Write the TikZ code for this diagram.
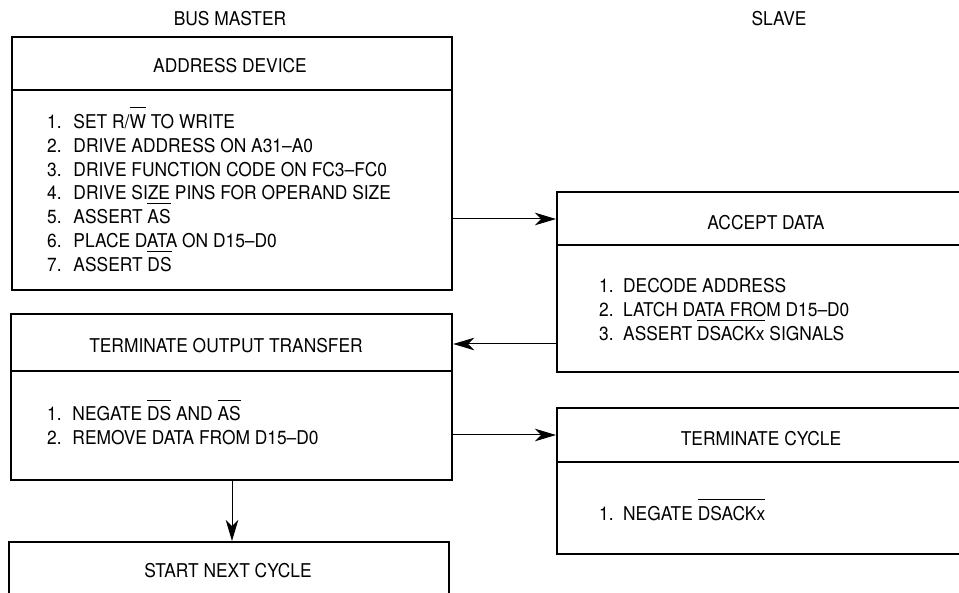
\documentclass[tikz,border=0pt]{standalone}
\usepackage{fontspec}
\setmainfont[FakeStretch=0.915]{TeX Gyre Heros}
\usetikzlibrary{arrows.meta}
\newcommand\myovl[1]{\setbox0\hbox{#1}\rlap{\rule[20pt]{\wd0}{0.9pt}}\box0\relax}
\newcommand\num[2]{\makebox[#1][l]{#2}}
\tikzset{
  box/.style={draw, line width=2.2pt, anchor=north west, inner sep=0pt},
  divider/.style={line width=2.2pt},
  title/.style={inner sep=0pt, text height=13.6pt, text depth=0pt},
  item/.style={anchor=base west, inner sep=0pt},
  arr/.style={line width=1pt, -{Stealth[length=21pt,width=12.5pt,inset=6pt]}},
}
\begin{document}
\begin{tikzpicture}[x=1pt, y=-1pt, font=\fontsize{19}{24}\selectfont]
\useasboundingbox (0,0) rectangle (959,593);
\begin{scope}
\clip (0,0) rectangle (959,593);
\fill[white] (0,0) rectangle (959,593);

% column headers
\node[title] (hbm) at (230,19) {BUS MASTER};
\node[title] (hsl) at (779,18.5) {SLAVE};

% boxes
\node[box, minimum width=440pt, minimum height=253pt] (addr) at (11,36) {};
\draw[divider] (12,90) -- (452,90);
\node[title] (addrT) at (230,66) {ADDRESS DEVICE};
\node[item] (a1) at (47,128.3) {\num{26.3pt}{1.}SET R/\myovl{W} TO WRITE};
\node[item] (a2) at (47,152.2) {\num{26.3pt}{2.}DRIVE ADDRESS ON A31–A0};
\node[item] (a3) at (47,176.1) {\num{26.3pt}{3.}DRIVE FUNCTION CODE ON FC3–FC0};
\node[item] (a4) at (47,200.0) {\num{26.3pt}{4.}DRIVE SIZE PINS FOR OPERAND SIZE};
\node[item] (a5) at (47,223.9) {\num{26.3pt}{5.}ASSERT \myovl{AS}};
\node[item] (a6) at (47,247.8) {\num{26.3pt}{6.}PLACE DATA ON D15–D0};
\node[item] (a7) at (47,271.7) {\num{26.3pt}{7.}ASSERT \myovl{DS}};

\node[box, minimum width=450pt, minimum height=180pt] (accept) at (556,191) {};
\draw[divider] (557,245) -- (1010,245);
\node[title] (acceptT) at (766,222.5) {ACCEPT DATA};
\node[item] (b1) at (599,292.7) {\num{24pt}{1.}DECODE ADDRESS};
\node[item] (b2) at (599,317.0) {\num{24pt}{2.}LATCH DATA FROM D15–D0};
\node[item] (b3) at (599,340.7) {\num{24pt}{3.}ASSERT \myovl{DSACKx} SIGNALS};

\node[box, minimum width=441pt, minimum height=166pt] (term) at (10,313) {};
\draw[divider] (11,371) -- (452,371);
\node[title] (termT) at (226,346) {TERMINATE OUTPUT TRANSFER};
\node[item] (c1) at (47,420.7) {\num{25.3pt}{1.}NEGATE \myovl{DS} AND \myovl{AS}};
\node[item] (c2) at (47,444.8) {\num{25.3pt}{2.}REMOVE DATA FROM D15–D0};

\node[box, minimum width=450pt, minimum height=146pt] (tcyc) at (556,407) {};
\draw[divider] (557,462) -- (1010,462);
\node[title] (tcycT) at (761,438.5) {TERMINATE CYCLE};
\node[item] (d1) at (599,520) {\num{24pt}{1.}NEGATE \myovl{DSACKx}};

\node[box, minimum width=440pt, minimum height=90pt] (next) at (8,541) {};
\node[title] (nextT) at (228,571) {START NEXT CYCLE};

% connectors
\coordinate (y1) at (0,219);
\coordinate (y2) at (0,344);
\coordinate (y3) at (0,435);
\coordinate (x4) at (232,0);
\draw[arr] (addr.east |- y1) -- (accept.west |- y1);
\draw[arr] (accept.west |- y2) -- (term.east |- y2);
\draw[arr] (term.east |- y3) -- (tcyc.west |- y3);
\draw[arr] (term.south -| x4) -- (next.north -| x4);
\end{scope}
\end{tikzpicture}
\end{document}
